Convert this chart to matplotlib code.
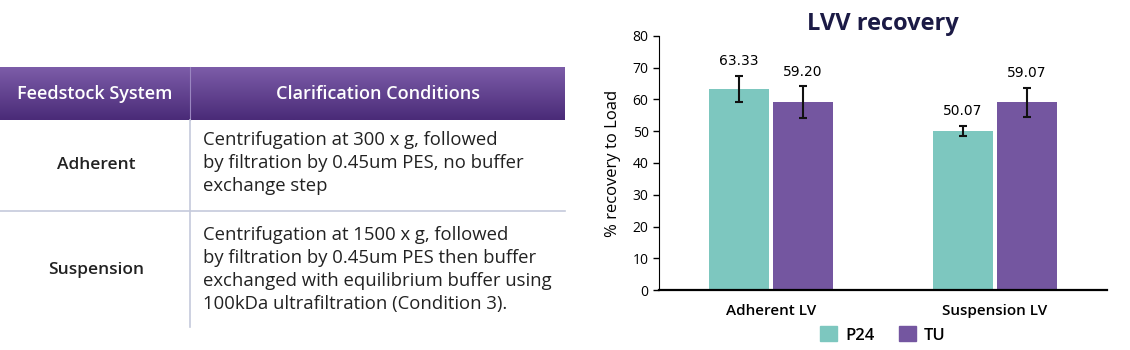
import numpy as np
import matplotlib
matplotlib.use("Agg")
from matplotlib import pyplot as plt
from matplotlib.patches import Patch

plt.rcParams['font.family'] = ['Open Sans', 'DejaVu Sans']

# chart data
groups = ['Adherent LV', 'Suspension LV']
series = ['P24', 'TU']
p24 = [63.33, 50.07]
tu = [59.20, 59.07]
p24_err = [4.1, 1.5]
tu_err = [4.9, 4.7]
colors = ['#7dc7bf', '#7456a0']

# table data
col_headers = ['Feedstock System', 'Clarification Conditions']
row_labels = ['Adherent', 'Suspension']
row_text = [
    'Centrifugation at 300 x g, followed\nby filtration by 0.45um PES, no buffer\nexchange step',
    'Centrifugation at 1500 x g, followed\nby filtration by 0.45um PES then buffer\nexchanged with equilibrium buffer using\n100kDa ultrafiltration (Condition 3).',
]

fig = plt.figure(figsize=(11.3, 3.5), dpi=100)

# ---- table, drawn in pixel coordinates
ax_t = fig.add_axes([0, 0, 1, 1])
ax_t.set_xlim(0, 1130)
ax_t.set_ylim(350, 0)
ax_t.axis('off')

grad = np.linspace(0, 1, 50).reshape(-1, 1)
c_top = np.array([0x7c, 0x5c, 0xa8]) / 255
c_bot = np.array([0x4a, 0x2b, 0x78]) / 255
img = c_top[None, None, :] * (1 - grad[..., None]) + c_bot[None, None, :] * grad[..., None]
ax_t.imshow(img, extent=(0, 565, 120, 67), aspect='auto', zorder=1)
ax_t.plot([190, 190], [67, 120], color='#9a86c0', lw=0.8, zorder=2)

ax_t.text(95, 94, col_headers[0], color='white', fontsize=13, fontweight='semibold',
          ha='center', va='center', zorder=3)
ax_t.text(378, 94, col_headers[1], color='white', fontsize=13, fontweight='semibold',
          ha='center', va='center', zorder=3)

line_c = '#c5cadb'
ax_t.plot([190, 190], [120, 327], color=line_c, lw=1.2)
ax_t.plot([0, 565], [211, 211], color=line_c, lw=1.2)

row_y = [165, 270]
text_top = [131, 226]
for i in range(2):
    ax_t.text(96, row_y[i], row_labels[i], fontsize=12.5, fontweight='semibold',
              color='#222222', ha='center', va='center')
    ax_t.text(203, text_top[i], row_text[i], fontsize=13.3, color='#222222',
              ha='left', va='top', linespacing=1.36)

# ---- bar chart
ax = fig.add_axes([659 / 1130, 60 / 350, 448 / 1130, 254 / 350])
x = np.arange(len(groups))
w = 0.27
off = 0.1435
ax.bar(x - off, p24, w, color=colors[0], yerr=p24_err, capsize=3,
       error_kw=dict(lw=1.5, capthick=1.5, ecolor='#111111'), label=series[0])
ax.bar(x + off, tu, w, color=colors[1], yerr=tu_err, capsize=3,
       error_kw=dict(lw=1.5, capthick=1.5, ecolor='#111111'), label=series[1])

for i in range(len(groups)):
    ax.text(x[i] - off, p24[i] + p24_err[i] + 2.5, '%.2f' % p24[i], ha='center',
            va='bottom', fontsize=10, family='DejaVu Sans')
    ax.text(x[i] + off, tu[i] + tu_err[i] + 2.5, '%.2f' % tu[i], ha='center',
            va='bottom', fontsize=10, family='DejaVu Sans')

ax.set_xlim(-0.5, 1.5)
ax.set_ylim(0, 80)
ax.set_yticks(range(0, 81, 10))
ax.set_xticks(x)
ax.set_xticklabels(groups, fontsize=11, fontweight='semibold')
ax.tick_params(axis='x', length=0, pad=10)
ax.tick_params(axis='y', labelsize=10, length=4, width=1)
ax.spines['top'].set_visible(False)
ax.spines['right'].set_visible(False)
ax.spines['bottom'].set_linewidth(1.6)
ax.set_ylabel('% recovery to Load', fontsize=12, labelpad=8)
ax.set_title('LVV recovery', fontsize=17, fontweight='bold', color='#1b1a45', pad=4)

handles = [Patch(color=colors[0], label=series[0]), Patch(color=colors[1], label=series[1])]
leg = fig.legend(handles=handles, loc='center', bbox_to_anchor=(883 / 1130, 15 / 350),
                 ncol=2, frameon=False, fontsize=12, handlelength=1, handleheight=1,
                 columnspacing=1.5, handletextpad=0.5)
for t in leg.get_texts():
    t.set_fontweight('semibold')

fig.savefig('out.png', dpi=100)
